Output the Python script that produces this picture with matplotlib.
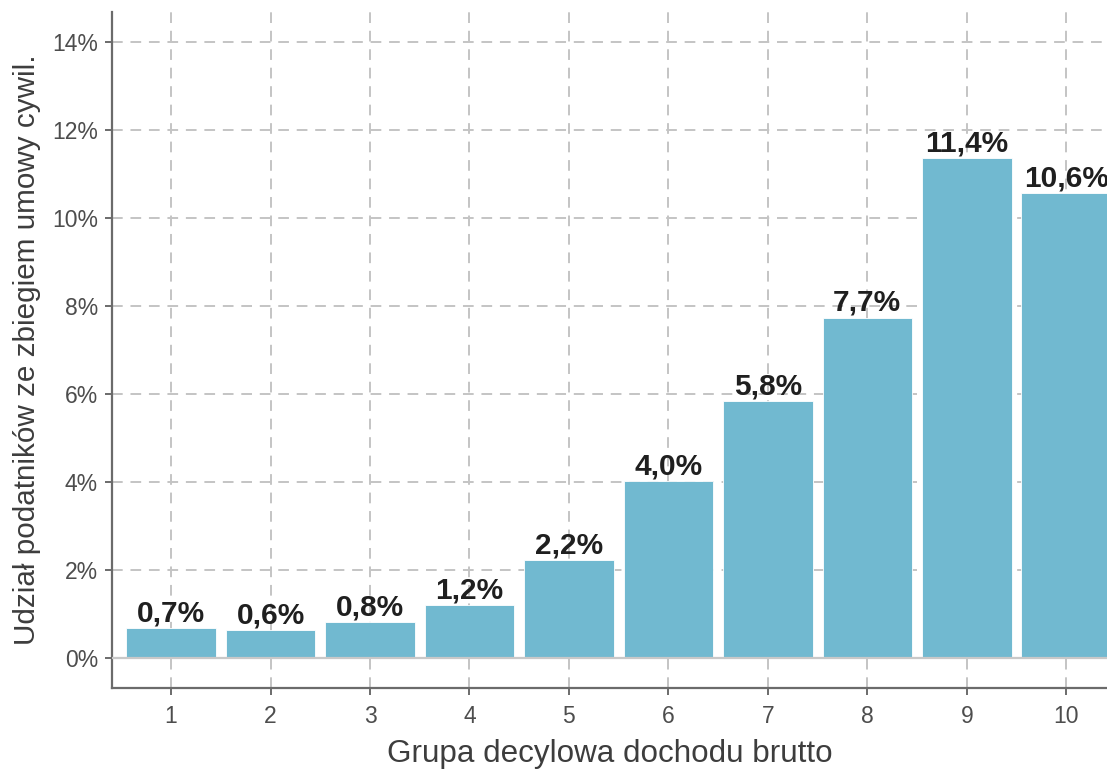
import matplotlib.pyplot as plt
from matplotlib.ticker import FuncFormatter

plt.rcParams['font.family'] = ['Liberation Sans', 'DejaVu Sans']

decile = [1, 2, 3, 4, 5, 6, 7, 8, 9, 10]
share = [0.68, 0.64, 0.82, 1.20, 2.23, 4.02, 5.84, 7.73, 11.36, 10.57]
share_labels = ['0,7%', '0,6%', '0,8%', '1,2%', '2,2%', '4,0%', '5,8%', '7,7%', '11,4%', '10,6%']
y_ticks = [0, 2, 4, 6, 8, 10, 12, 14]

fig = plt.figure(figsize=(11.07, 7.71), dpi=100)
ax = fig.add_axes([112 / 1107, (771 - 688) / 771, (1107 - 112) / 1107, (688 - 12) / 771])

ax.set_axisbelow(True)
ax.grid(True, color='#c4c4c4', linestyle=(0, (5.5, 4)), linewidth=1.4)
ax.bar(decile, share, width=0.9, color='#71b9d0', edgecolor='white', linewidth=0.6, zorder=2)
ax.axhline(0, color='#c8c8c8', linewidth=1.6, zorder=3)

for x, v, lab in zip(decile, share, share_labels):
    ax.text(x, v + 0.02, lab, ha='center', va='bottom', fontsize=21.5,
            fontweight='bold', color='#1f1f1f', zorder=4)

ax.set_xlim(0.406, 10.41)
ax.set_ylim(-0.68, 14.68)
ax.set_xticks(decile)
ax.set_yticks(y_ticks)
ax.yaxis.set_major_formatter(FuncFormatter(lambda v, p: f'{v:.0f}%'))

for side in ['top', 'right']:
    ax.spines[side].set_visible(False)
for side in ['left', 'bottom']:
    ax.spines[side].set_color('#6b6b6b')
    ax.spines[side].set_linewidth(1.6)
ax.tick_params(colors='#6b6b6b', labelcolor='#4d4d4d', labelsize=16.5, length=5, width=1.4)
ax.tick_params(axis='x', pad=7)
ax.tick_params(axis='y', pad=5)

ax.set_xlabel('Grupa decylowa dochodu brutto', fontsize=22.6, color='#3d3d3d', labelpad=8)
ax.set_ylabel('Udział podatników ze zbiegiem umowy cywil.', fontsize=21.3, color='#3d3d3d', labelpad=8)

fig.savefig('out.png', dpi=100)
